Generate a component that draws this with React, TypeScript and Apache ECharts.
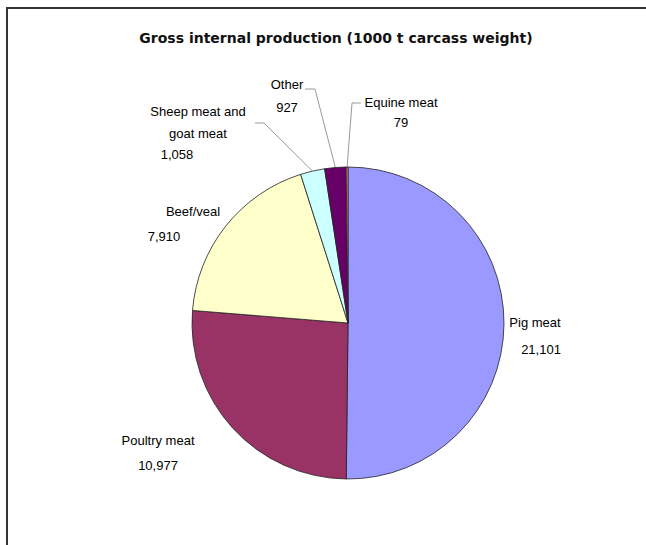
import React, { useEffect, useRef } from "react";
import * as echarts from "echarts";

const titleText = "Gross internal production (1000 t carcass weight)";
const categories = ["Pig meat", "Poultry meat", "Beef/veal", "Sheep meat and goat meat", "Other", "Equine meat"];
const values = [21101, 10977, 7910, 1058, 927, 79];
const colors = ["#9999FF", "#993366", "#FFFFCC", "#CCFFFF", "#660066", "#FF8080"];

const fmt = (v: number) => v.toLocaleString("en-US");

// label layout: block centre, line height
const labelPos: Record<number, { x: number; y: number; lh: number }> = {
  0: { x: 538, y: 336, lh: 27 },
  1: { x: 158, y: 453, lh: 25 },
  2: { x: 180, y: 224, lh: 25 },
  3: { x: 198, y: 133, lh: 21.5 },
  4: { x: 287, y: 96, lh: 23 },
  5: { x: 401, y: 112, lh: 20 },
};
const leaderEnds: Record<number, number[][]> = {
  3: [[264, 123], [255, 123]],
  4: [[315, 89], [305, 89]],
  5: [[352, 103], [361, 103]],
};

const labelText = (i: number) => {
  const v = fmt(values[i]);
  switch (i) {
    case 0:
      return `{a|Pig meat}\n{b|${v}}`;
    case 1:
      return `{n|Poultry meat}\n{n|${v}}`;
    case 2:
      return `{c|Beef/veal}\n{d|${v}}`;
    case 3:
      return `{n|Sheep meat and}\n{n|goat meat}\n{e|${v}}`;
    case 4:
      return `{n|Other}\n{n|${v}}`;
    default:
      return `{n|Equine meat}\n{n|${v}}`;
  }
};

export default function App() {
  const ref = useRef<HTMLDivElement>(null);
  useEffect(() => {
    if (!ref.current) return;
    const chart = echarts.init(ref.current, undefined, { renderer: "svg" });
    const font = "'Liberation Sans', Arial, sans-serif";
    const baseRich = (lh: number) => ({
      n: { fontSize: 13, fontFamily: font, color: "#000", lineHeight: lh },
      a: { fontSize: 13, fontFamily: font, color: "#000", lineHeight: lh, padding: [0, 6, 0, 0] },
      b: { fontSize: 13, fontFamily: font, color: "#000", lineHeight: lh, padding: [0, 0, 0, 6] },
      c: { fontSize: 13, fontFamily: font, color: "#000", lineHeight: lh, padding: [0, 0, 0, 26] },
      d: { fontSize: 13, fontFamily: font, color: "#000", lineHeight: lh, padding: [0, 32, 0, 0] },
      e: { fontSize: 13, fontFamily: font, color: "#000", lineHeight: lh, padding: [0, 42, 0, 0] },
    });
    chart.setOption({
      animation: false,
      backgroundColor: "#fff",
      title: {
        text: titleText,
        left: 331,
        top: 26,
        textAlign: "center",
        textStyle: { fontSize: 14, fontWeight: "bold", fontFamily: "'DejaVu Sans', sans-serif", color: "#111" },
      },
      graphic: [
        { type: "line", shape: { x1: 6, y1: 8, x2: 646, y2: 8 }, style: { stroke: "#333", lineWidth: 2 } },
        { type: "line", shape: { x1: 7, y1: 7, x2: 7, y2: 545 }, style: { stroke: "#333", lineWidth: 2 } },
      ],
      series: [
        {
          type: "pie",
          center: [348, 323],
          radius: 156,
          startAngle: 90,
          clockwise: true,
          avoidLabelOverlap: false,
          itemStyle: { borderColor: "#222", borderWidth: 0.8 },
          labelLine: { show: false, lineStyle: { color: "#999", width: 1 }, length: 10, length2: 10 },
          label: { show: true, position: "outside" },
          labelLayout: (params: any) => {
            const i = params.dataIndex;
            const p = labelPos[i];
            const res: any = { x: p.x, y: p.y, align: "center", verticalAlign: "middle" };
            if (leaderEnds[i] && params.labelLinePoints) {
              res.labelLinePoints = [params.labelLinePoints[0], leaderEnds[i][0], leaderEnds[i][1]];
            }
            return res;
          },
          data: categories.map((name, i) => ({
            name,
            value: values[i],
            itemStyle: { color: colors[i] },
            labelLine: { show: !!leaderEnds[i] },
            label: {
              formatter: labelText(i),
              rich: baseRich(labelPos[i].lh),
            },
          })),
        },
      ],
    });
    return () => chart.dispose();
  }, []);
  return <div ref={ref} style={{ position: "fixed", left: 0, top: 0, width: 646, height: 545 }} />;
}
